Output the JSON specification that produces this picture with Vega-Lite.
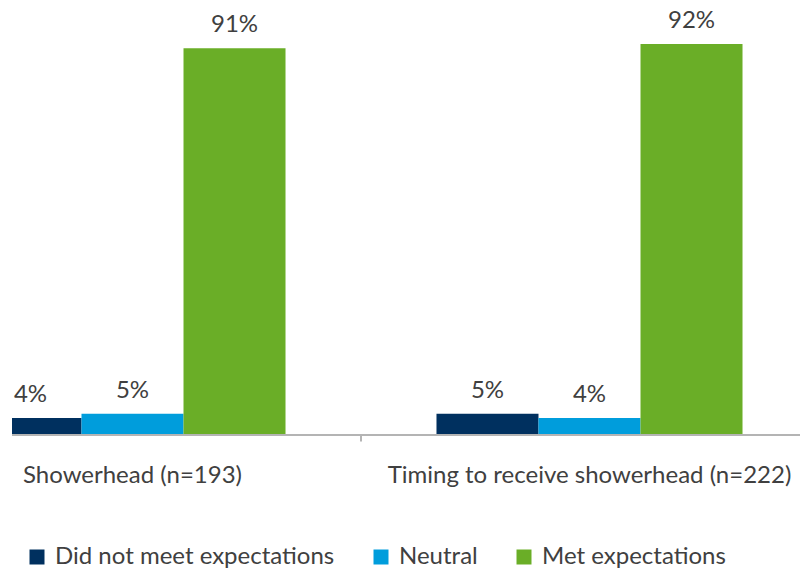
{
  "$schema": "https://vega.github.io/schema/vega-lite/v6.json",
  "width": 788,
  "height": 425,
  "autosize": "none",
  "padding": {"left": 12, "top": 10, "right": 1, "bottom": 136},
  "config": {
    "view": {"stroke": null},
    "font": "Lato",
    "text": {"color": "#404040"}
  },
  "data": {
    "values": [
      {"item": "Showerhead (n=193)", "response": "Did not meet expectations", "value": 0.04},
      {"item": "Showerhead (n=193)", "response": "Neutral", "value": 0.05},
      {"item": "Showerhead (n=193)", "response": "Met expectations", "value": 0.91},
      {"item": "Timing to receive showerhead (n=222)", "response": "Did not meet expectations", "value": 0.05},
      {"item": "Timing to receive showerhead (n=222)", "response": "Neutral", "value": 0.04},
      {"item": "Timing to receive showerhead (n=222)", "response": "Met expectations", "value": 0.92}
    ]
  },
  "layer": [
    {
      "mark": {"type": "bar", "clip": true},
      "encoding": {
        "x": {
          "field": "item",
          "type": "nominal",
          "sort": ["Showerhead (n=193)", "Timing to receive showerhead (n=222)"],
          "scale": {"range": [-108, 806], "paddingInner": 0, "paddingOuter": 0},
          "axis": {
            "title": null,
            "domain": false,
            "ticks": false,
            "labelAngle": 0,
            "labelFontSize": 24,
            "labelColor": "#404040",
            "labelPadding": 28,
            "labelLimit": 0,
            "labelOverlap": false,
            "labelBound": false
          }
        },
        "xOffset": {
          "field": "response",
          "type": "nominal",
          "sort": ["Did not meet expectations", "Neutral", "Met expectations"],
          "scale": {"paddingInner": 0, "paddingOuter": 0.74}
        },
        "y": {
          "field": "value",
          "type": "quantitative",
          "scale": {"domain": [0, 1]},
          "axis": null
        },
        "color": {
          "field": "response",
          "type": "nominal",
          "sort": ["Did not meet expectations", "Neutral", "Met expectations"],
          "scale": {
            "domain": ["Did not meet expectations", "Neutral", "Met expectations"],
            "range": ["#00305F", "#009DDC", "#6AAE27"]
          },
          "legend": {
            "title": null,
            "orient": "none",
            "direction": "horizontal",
            "legendX": 13,
            "legendY": 535,
            "padding": 0,
            "symbolType": "square",
            "symbolSize": 225,
            "symbolStrokeWidth": 0,
            "symbolOpacity": 1,
            "labelFontSize": 24,
            "labelLimit": 0,
            "labelColor": "#404040",
            "labelOffset": 6,
            "columnPadding": 34
          }
        }
      }
    },
    {
      "mark": {"type": "text", "baseline": "alphabetic", "dy": -16, "fontSize": 24},
      "encoding": {
        "x": {
          "field": "item",
          "type": "nominal",
          "sort": ["Showerhead (n=193)", "Timing to receive showerhead (n=222)"]
        },
        "xOffset": {
          "field": "response",
          "type": "nominal",
          "sort": ["Did not meet expectations", "Neutral", "Met expectations"]
        },
        "y": {"field": "value", "type": "quantitative"},
        "text": {"field": "value", "type": "quantitative", "format": ".0%"}
      }
    },
    {
      "mark": {"type": "rule", "color": "#B4B4B4", "strokeWidth": 2},
      "encoding": {"y": {"datum": 0}}
    },
    {
      "transform": [
        {"filter": "datum.item === 'Timing to receive showerhead (n=222)' && datum.response === 'Neutral'"}
      ],
      "mark": {"type": "rule", "color": "#B4B4B4", "strokeWidth": 2},
      "encoding": {
        "x": {
          "field": "item",
          "type": "nominal",
          "bandPosition": 0,
          "sort": ["Showerhead (n=193)", "Timing to receive showerhead (n=222)"]
        },
        "y": {"datum": 0},
        "y2": {"datum": -0.015}
      }
    }
  ]
}
